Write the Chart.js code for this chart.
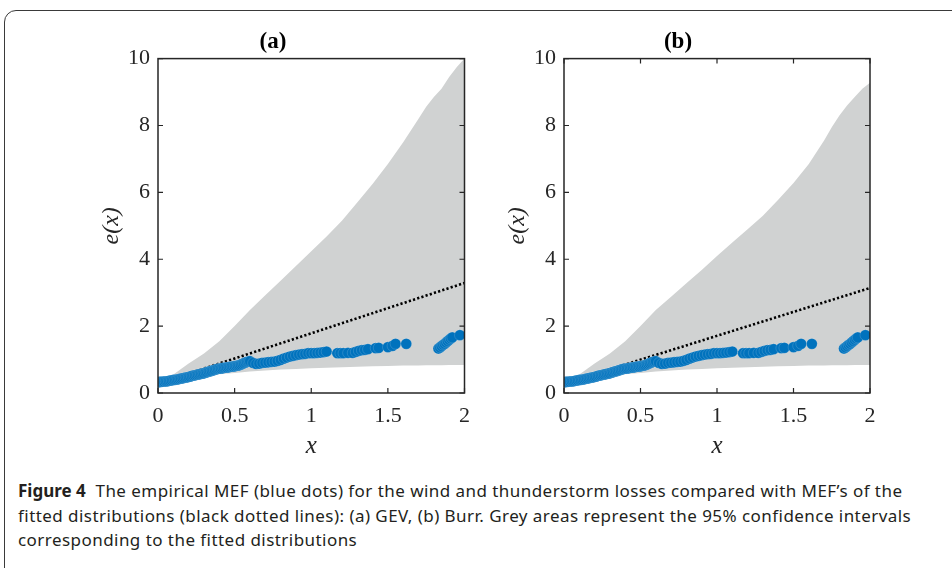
<!DOCTYPE html>
<html>
<head>
<meta charset="utf-8">
<script src="https://cdn.jsdelivr.net/npm/chart.js@4.4.1/dist/chart.umd.min.js"></script>
<style>
  body { margin: 0; background: #fff; width: 952px; height: 568px; overflow: hidden; position: relative; }
  #frame { position: absolute; left: 4px; top: 10px; width: 1000px; height: 600px;
           border: 1px solid #3a3a3a; border-top-left-radius: 12px; box-sizing: border-box; }
  .cv { position: absolute; top: 20px; }
  #caption { position: absolute; left: 18px; top: 479px; font-family: "Noto Sans", sans-serif;
             font-size: 17px; line-height: 24.5px; color: #231f20; white-space: nowrap; letter-spacing: 0.45px; }
  #caption b { font-weight: 700; letter-spacing: 0; }
</style>
</head>
<body>
<div id="frame"></div>
<canvas id="chartA" class="cv" width="400" height="450" style="left:80px"></canvas>
<canvas id="chartB" class="cv" width="400" height="450" style="left:486px"></canvas>
<div id="caption">
  <b>Figure 4</b>&nbsp; The empirical MEF (blue dots) for the wind and thunderstorm losses compared with MEF’s of the<br>
  fitted distributions (black dotted lines): (a) GEV, (b) Burr. Grey areas represent the 95% confidence intervals<br>
  corresponding to the fitted distributions
</div>
<script>
// empirical MEF (same for both panels)
let mefX = [0.00, 0.01, 0.02, 0.03, 0.04, 0.05, 0.06, 0.07, 0.08, 0.09, 0.10, 0.11, 0.12, 0.13, 0.14, 0.15,
            0.16, 0.17, 0.18, 0.19, 0.20, 0.21, 0.22, 0.23, 0.24, 0.25, 0.26, 0.27, 0.28, 0.29, 0.30, 0.31,
            0.32, 0.33, 0.34, 0.35, 0.36, 0.37, 0.38, 0.39, 0.40, 0.41, 0.42, 0.43, 0.44, 0.45, 0.46, 0.47,
            0.48, 0.49, 0.50, 0.51, 0.52, 0.53, 0.54, 0.55, 0.56, 0.57, 0.58, 0.59, 0.60, 0.62, 0.64, 0.66,
            0.68, 0.70, 0.72, 0.74, 0.76, 0.78, 0.80, 0.82, 0.84, 0.86, 0.88, 0.90, 0.92, 0.94, 0.96, 0.98,
            1.00, 1.02, 1.04, 1.06, 1.08, 1.10, 1.17, 1.19, 1.21, 1.24, 1.27, 1.29, 1.31, 1.33, 1.35, 1.37,
            1.42, 1.44, 1.50, 1.53, 1.55, 1.62, 1.83, 1.84, 1.85, 1.86, 1.87, 1.88, 1.89, 1.90, 1.91, 1.92, 1.97];
let mefY = [0.32, 0.33, 0.33, 0.34, 0.34, 0.35, 0.35, 0.36, 0.37, 0.38, 0.39, 0.39, 0.40, 0.41, 0.42, 0.43,
            0.44, 0.45, 0.46, 0.47, 0.48, 0.49, 0.51, 0.52, 0.53, 0.54, 0.55, 0.56, 0.57, 0.58, 0.59, 0.61,
            0.62, 0.64, 0.65, 0.66, 0.68, 0.69, 0.71, 0.72, 0.73, 0.73, 0.74, 0.75, 0.76, 0.76, 0.77, 0.78,
            0.79, 0.79, 0.80, 0.81, 0.82, 0.83, 0.85, 0.87, 0.89, 0.91, 0.93, 0.94, 0.95, 0.90, 0.87, 0.88,
            0.90, 0.91, 0.92, 0.93, 0.94, 0.96, 0.99, 1.03, 1.06, 1.09, 1.11, 1.13, 1.15, 1.16, 1.17, 1.19,
            1.19, 1.19, 1.20, 1.21, 1.22, 1.24, 1.19, 1.19, 1.19, 1.20, 1.20, 1.23, 1.26, 1.28, 1.29, 1.31,
            1.34, 1.35, 1.37, 1.41, 1.47, 1.47, 1.33, 1.36, 1.40, 1.44, 1.47, 1.51, 1.55, 1.59, 1.63, 1.66, 1.73];

// confidence band
let bandX  = [0.0, 0.1, 0.2, 0.3, 0.4, 0.5, 0.6, 0.7, 0.8, 0.9, 1.0, 1.1, 1.2, 1.3, 1.4, 1.5, 1.6, 1.7, 1.75, 1.8, 1.85, 1.9, 1.95, 2.0];
let upperA = [0.35, 0.55, 0.88, 1.18, 1.55, 2.0, 2.48, 2.92, 3.36, 3.8, 4.24, 4.68, 5.15, 5.7, 6.25, 6.85, 7.5, 8.2, 8.56, 8.85, 9.1, 9.45, 9.75, 10.0];
let upperB = [0.35, 0.55, 0.88, 1.18, 1.55, 2.0, 2.48, 2.88, 3.28, 3.68, 4.1, 4.5, 4.9, 5.3, 5.78, 6.28, 6.85, 7.55, 7.95, 8.3, 8.6, 8.85, 9.1, 9.28];
let lowerAB = [0.3, 0.36, 0.43, 0.5, 0.56, 0.6, 0.64, 0.67, 0.7, 0.72, 0.74, 0.755, 0.77, 0.785, 0.8, 0.81, 0.82, 0.825, 0.828, 0.83, 0.833, 0.836, 0.838, 0.84];

// fitted MEF (straight lines)
let fitX = [0, 2];
let fitA = [0.28, 3.29];
let fitB = [0.28, 3.14];

let xTicks = [0, 0.5, 1, 1.5, 2];
let yTicks = [0, 2, 4, 6, 8, 10];

function pts(xs, ys) { return xs.map((x, i) => ({ x: x, y: ys[i] })); }

const serif = '"Liberation Serif", "Times New Roman", serif';
const axisColor = '#262626';

// box around the plot + inward ticks
const boxPlugin = {
  id: 'box',
  afterDatasetsDraw(chart, args, opts) {
    const { ctx, chartArea: a, scales } = chart;
    ctx.save();
    ctx.strokeStyle = axisColor;
    ctx.lineWidth = 1.5;
    ctx.strokeRect(a.left, a.top, a.right - a.left, a.bottom - a.top);
    ctx.lineWidth = 1.2;
    ctx.beginPath();
    xTicks.forEach(v => {
      const px = scales.x.getPixelForValue(v);
      ctx.moveTo(px, a.bottom); ctx.lineTo(px, a.bottom - 5);
      if (opts.topTicks) { ctx.moveTo(px, a.top); ctx.lineTo(px, a.top + 5); }
    });
    yTicks.forEach(v => {
      const py = scales.y.getPixelForValue(v);
      ctx.moveTo(a.left, py); ctx.lineTo(a.left + 5, py);
      ctx.moveTo(a.right, py); ctx.lineTo(a.right - 5, py);
    });
    ctx.stroke();
    ctx.restore();
  }
};

function makeChart(id, title, upper, fit, rightPad, topTicks) {
  return new Chart(document.getElementById(id).getContext('2d'), {
    type: 'scatter',
    data: {
      datasets: [{
        type: 'line', data: pts(bandX, lowerAB), borderWidth: 0, pointRadius: 0, fill: false, order: 3
      }, {
        type: 'line', data: pts(bandX, upper), borderWidth: 0, pointRadius: 0,
        fill: '-1', backgroundColor: 'rgb(208,210,210)', order: 2
      }, {
        type: 'line', data: pts(fitX, fit), borderColor: '#000', borderWidth: 2.6,
        borderDash: [2.2, 2.2], pointRadius: 0, fill: false, order: 1
      }, {
        data: pts(mefX, mefY), backgroundColor: '#0072BD', borderColor: 'rgba(255,255,255,0.5)',
        borderWidth: 0.3, pointRadius: 5.4, order: 0
      }]
    },
    options: {
      responsive: false,
      animation: false,
      layout: { padding: { left: 0, right: rightPad, top: 0, bottom: 0 } },
      plugins: {
        legend: { display: false },
        tooltip: { enabled: false },
        title: {
          display: true, text: title, color: '#000',
          font: { family: serif, size: 23, weight: 'bold' },
          padding: { top: 8, bottom: 3 }
        },
        box: { topTicks: topTicks }
      },
      scales: {
        x: {
          type: 'linear', min: 0, max: 2,
          afterFit: s => { s.height = 77; },
          afterBuildTicks: s => { s.ticks = xTicks.map(v => ({ value: v })); },
          grid: { display: false, drawTicks: false },
          border: { display: false },
          ticks: { color: '#262626', padding: 10, maxRotation: 0, font: { family: serif, size: 22 },
                   callback: v => String(v) },
          title: { display: true, text: 'x', color: '#262626', padding: { top: 0, bottom: 9 },
                   font: { family: serif, size: 25, style: 'italic' } }
        },
        y: {
          type: 'linear', min: 0, max: 10,
          afterFit: s => { s.width = 78; },
          afterBuildTicks: s => { s.ticks = yTicks.map(v => ({ value: v })); },
          grid: { display: false, drawTicks: false },
          border: { display: false },
          ticks: { color: '#262626', padding: 8, font: { family: serif, size: 22 },
                   callback: v => String(v) },
          title: { display: true, text: 'e(x)', color: '#262626', padding: { top: 17, bottom: 0 },
                   font: { family: serif, size: 24, style: 'italic' } }
        }
      }
    },
    plugins: [boxPlugin]
  });
}

makeChart('chartA', '(a)', upperA, fitA, 14, false);
makeChart('chartB', '(b)', upperB, fitB, 16, true);
</script>
</body>
</html>
